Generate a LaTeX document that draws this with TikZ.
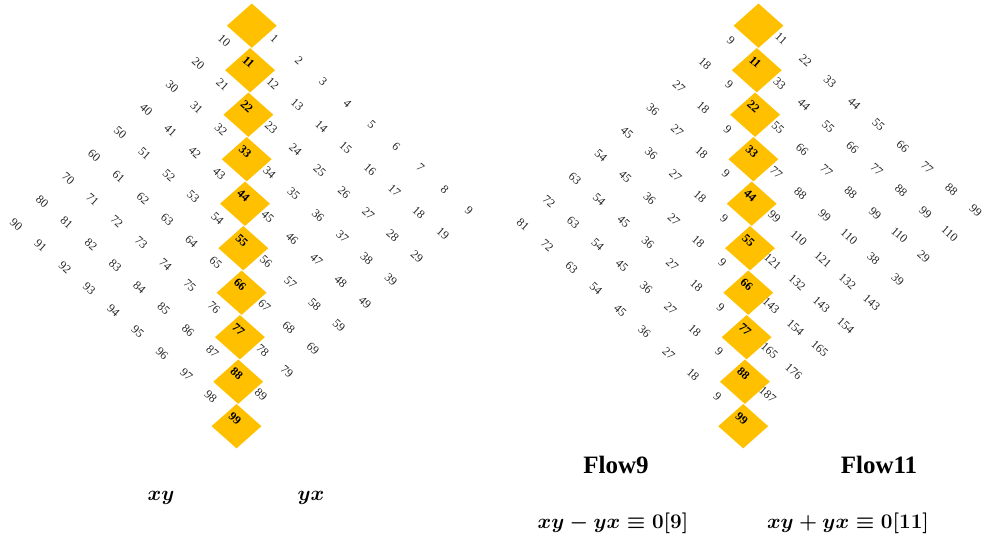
\documentclass[tikz,border=0pt]{standalone}
\usepackage{fontspec}
\usepackage{amsmath}
\setmainfont{Liberation Serif}
\usetikzlibrary{shapes.geometric}
\definecolor{gold}{RGB}{255,192,0}
\definecolor{numgray}{RGB}{38,38,38}
\begin{document}
\begin{tikzpicture}[x=1pt,y=-1pt,
  num/.style={font=\fontsize{12}{13}\selectfont, text=numgray, rotate=-42, inner sep=0pt},
  dnum/.style={font=\fontsize{12}{13}\selectfont\bfseries, text=black, rotate=-42, inner sep=0pt},
  gem/.style={diamond, fill=gold, draw=none, minimum width=50pt, minimum height=44.5pt, inner sep=0pt},
  flowlabel/.style={font=\fontsize{25}{28}\selectfont\bfseries, inner sep=0pt},
  mathlabel/.style={font=\fontsize{22}{26}\selectfont\boldmath, inner sep=0pt}]
\useasboundingbox (0,0) rectangle (989,540);

% ---------- left grid ----------
\foreach \n in {0,...,9}{
  \node[gem] (LD-\n) at ({251.8-1.7*\n},{25.7+44.5*\n}) {};
}
\foreach \n in {1,...,9}{
  \node[dnum] (LDL-\n) at ({250.3-1.7*\n},{17.7+44.5*\n}) {\n\n};
}
\foreach \a in {0,...,9}{
  \foreach \b in {0,...,9}{
    \ifnum\a=\b\relax\else
      \node[num] (L-\a-\b) at ({250.3-26*\a+24.3*\b},{17.2+23*\a+21.5*\b}) {\number\numexpr10*\a+\b\relax};
    \fi
  }
}

% ---------- right grid ----------
\foreach \n in {0,...,9}{
  \node[gem] (RD-\n) at ({758.5-1.7*\n},{25.7+44.5*\n}) {};
}
\foreach \n in {1,...,9}{
  \node[dnum] (RDL-\n) at ({757-1.7*\n},{17.7+44.5*\n}) {\n\n};
}
\foreach \a in {0,...,9}{
  \foreach \b in {0,...,9}{
    \ifnum\a>\b\relax
      \node[num] (R-\a-\b) at ({757-26*\a+24.3*\b},{17.2+23*\a+21.5*\b}) {\number\numexpr9*(\a-\b)\relax};
    \else\ifnum\a<\b\relax
      \node[num] (R-\a-\b) at ({757-26*\a+24.3*\b},{17.2+23*\a+21.5*\b}) {%
        \ifnum\numexpr10*\a+\b\relax=29 29\else
        \ifnum\numexpr10*\a+\b\relax=38 38\else
        \ifnum\numexpr10*\a+\b\relax=39 39\else
        \number\numexpr11*(\a+\b)\relax\fi\fi\fi};
    \fi\fi
  }
}

% ---------- captions ----------
\node[mathlabel] (xy) at (161,498) {$xy$};
\node[mathlabel] (yx) at (311,498) {$yx$};
\node[flowlabel] (flow9) at (616,465) {Flow9};
\node[flowlabel] (flow11) at (879,465) {Flow11};
\node[mathlabel] (eq9) at (613,523) {$xy-yx\equiv\mathbf{0[9]}$};
\node[mathlabel] (eq11) at (848,523) {$xy+yx\equiv\mathbf{0[11]}$};
\end{tikzpicture}
\end{document}
